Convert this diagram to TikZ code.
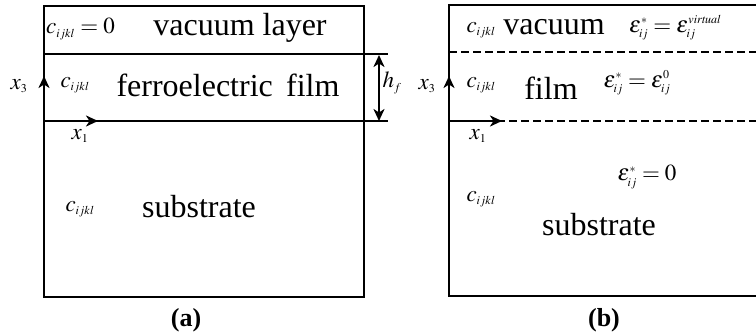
\documentclass[tikz,border=0pt]{standalone}
\usepackage{mathptmx}
\usepackage{fontspec}
\setmainfont{Liberation Serif}
\usetikzlibrary{positioning}
\usetikzlibrary{calc,arrows.meta}
\DeclareMathSizes{23}{23}{12}{9}

\begin{document}
\begin{tikzpicture}[x=1pt, y=-1pt, >={Stealth[length=12pt,width=11pt,inset=3.5pt]}]

  % Styles for the layer labels and outlines
  \tikzset{
    big/.style={inner sep=0pt, font=\fontsize{32}{38}\selectfont},
    sym/.style={inner sep=0pt, font=\fontsize{23}{27}\selectfont},
    panel/.style={inner sep=0pt, font=\fontsize{26}{30}\selectfont\bfseries},
    wall/.style={line width=2.6pt},
    cut/.style={line width=2.6pt, dash pattern=on 8pt off 4pt},
    axis/.style={->, line width=2.6pt}
  }

  \useasboundingbox (0,0) rectangle (756,336);

  % ---- (a) ----
  \coordinate (a-nw) at (44,6);
  \coordinate (a-se) at (364,297);
  \coordinate (a-vl) at (44,54);
  \coordinate (a-vr) at (364,54);
  \coordinate (a-o) at (44,121);
  \coordinate (a-fr) at (364,121);
  \draw[wall] (a-nw) rectangle (a-se);
  \draw[wall] (a-vl) -- (a-vr) -- ++(24,0);
  \draw[wall] (a-o) -- (a-fr) -- ++(24,0);
  \draw[<->, line width=2.6pt] (379,55) -- (379,121);

  \node (a-top-c) [sym, anchor=west] at (46,29) {$c_{ijkl}=0$};
  \node (a-top) [big] at (240,28) {vacuum layer};
  \node (a-x3) [sym] at (19,86) {$x_3$};
  \node (a-film-c) [sym] at (75,85) {$c_{ijkl}$};
  \node (a-film) [big] at (228,85) {ferroelectric\, film};
  \node (a-x1) [sym] at (80,136) {$x_1$};
  \node (a-hf) [sym] at (392,83) {$h_f$};
  \node (a-sub-c) [sym] at (80,209) {$c_{ijkl}$};
  \node (a-sub) [big] at (199,207) {substrate};
  \node (a-cap) [panel] at (186,320) {(a)};

  \draw[axis] (a-o) -- (44,76);
  \draw[axis] (a-o) -- (98,121);

  % ---- (b) ----
  \coordinate (b-o) at (449,121);
  \draw[wall] (760,5) -- (449,5) -- (449,296) -- (760,296);
  \draw[cut] (449,52) -- (760,52);
  \draw[cut] (b-o) -- (760,121);

  \node (b-top-c) [sym] at (481,30) {$c_{ijkl}$};
  \node (b-top) [big] at (554,27) {vacuum};
  \node (b-top-e) [sym] at (675,28) {$\varepsilon^{*}_{ij}=\varepsilon^{\mathit{virtual}}_{ij}$};
  \node (b-x3) [sym] at (427,86) {$x_3$};
  \node (b-film-c) [sym] at (481,85) {$c_{ijkl}$};
  \node (b-film) [big] at (551,88) {film};
  \node (b-film-e) [sym] at (637,83) {$\varepsilon^{*}_{ij}=\varepsilon^{0}_{ij}$};
  \node (b-x1) [sym] at (478,136) {$x_1$};
  \node (b-sub-e) [sym] at (647,177) {$\varepsilon^{*}_{ij}=0$};
  \node (b-sub-c) [sym] at (481,199) {$c_{ijkl}$};
  \node (b-sub) [big] at (599,225) {substrate};
  \node (b-cap) [panel] at (604,320) {(b)};

  \draw[axis] (b-o) -- (449,76);
  \draw[axis] (b-o) -- (502,121);

\end{tikzpicture}
\end{document}
